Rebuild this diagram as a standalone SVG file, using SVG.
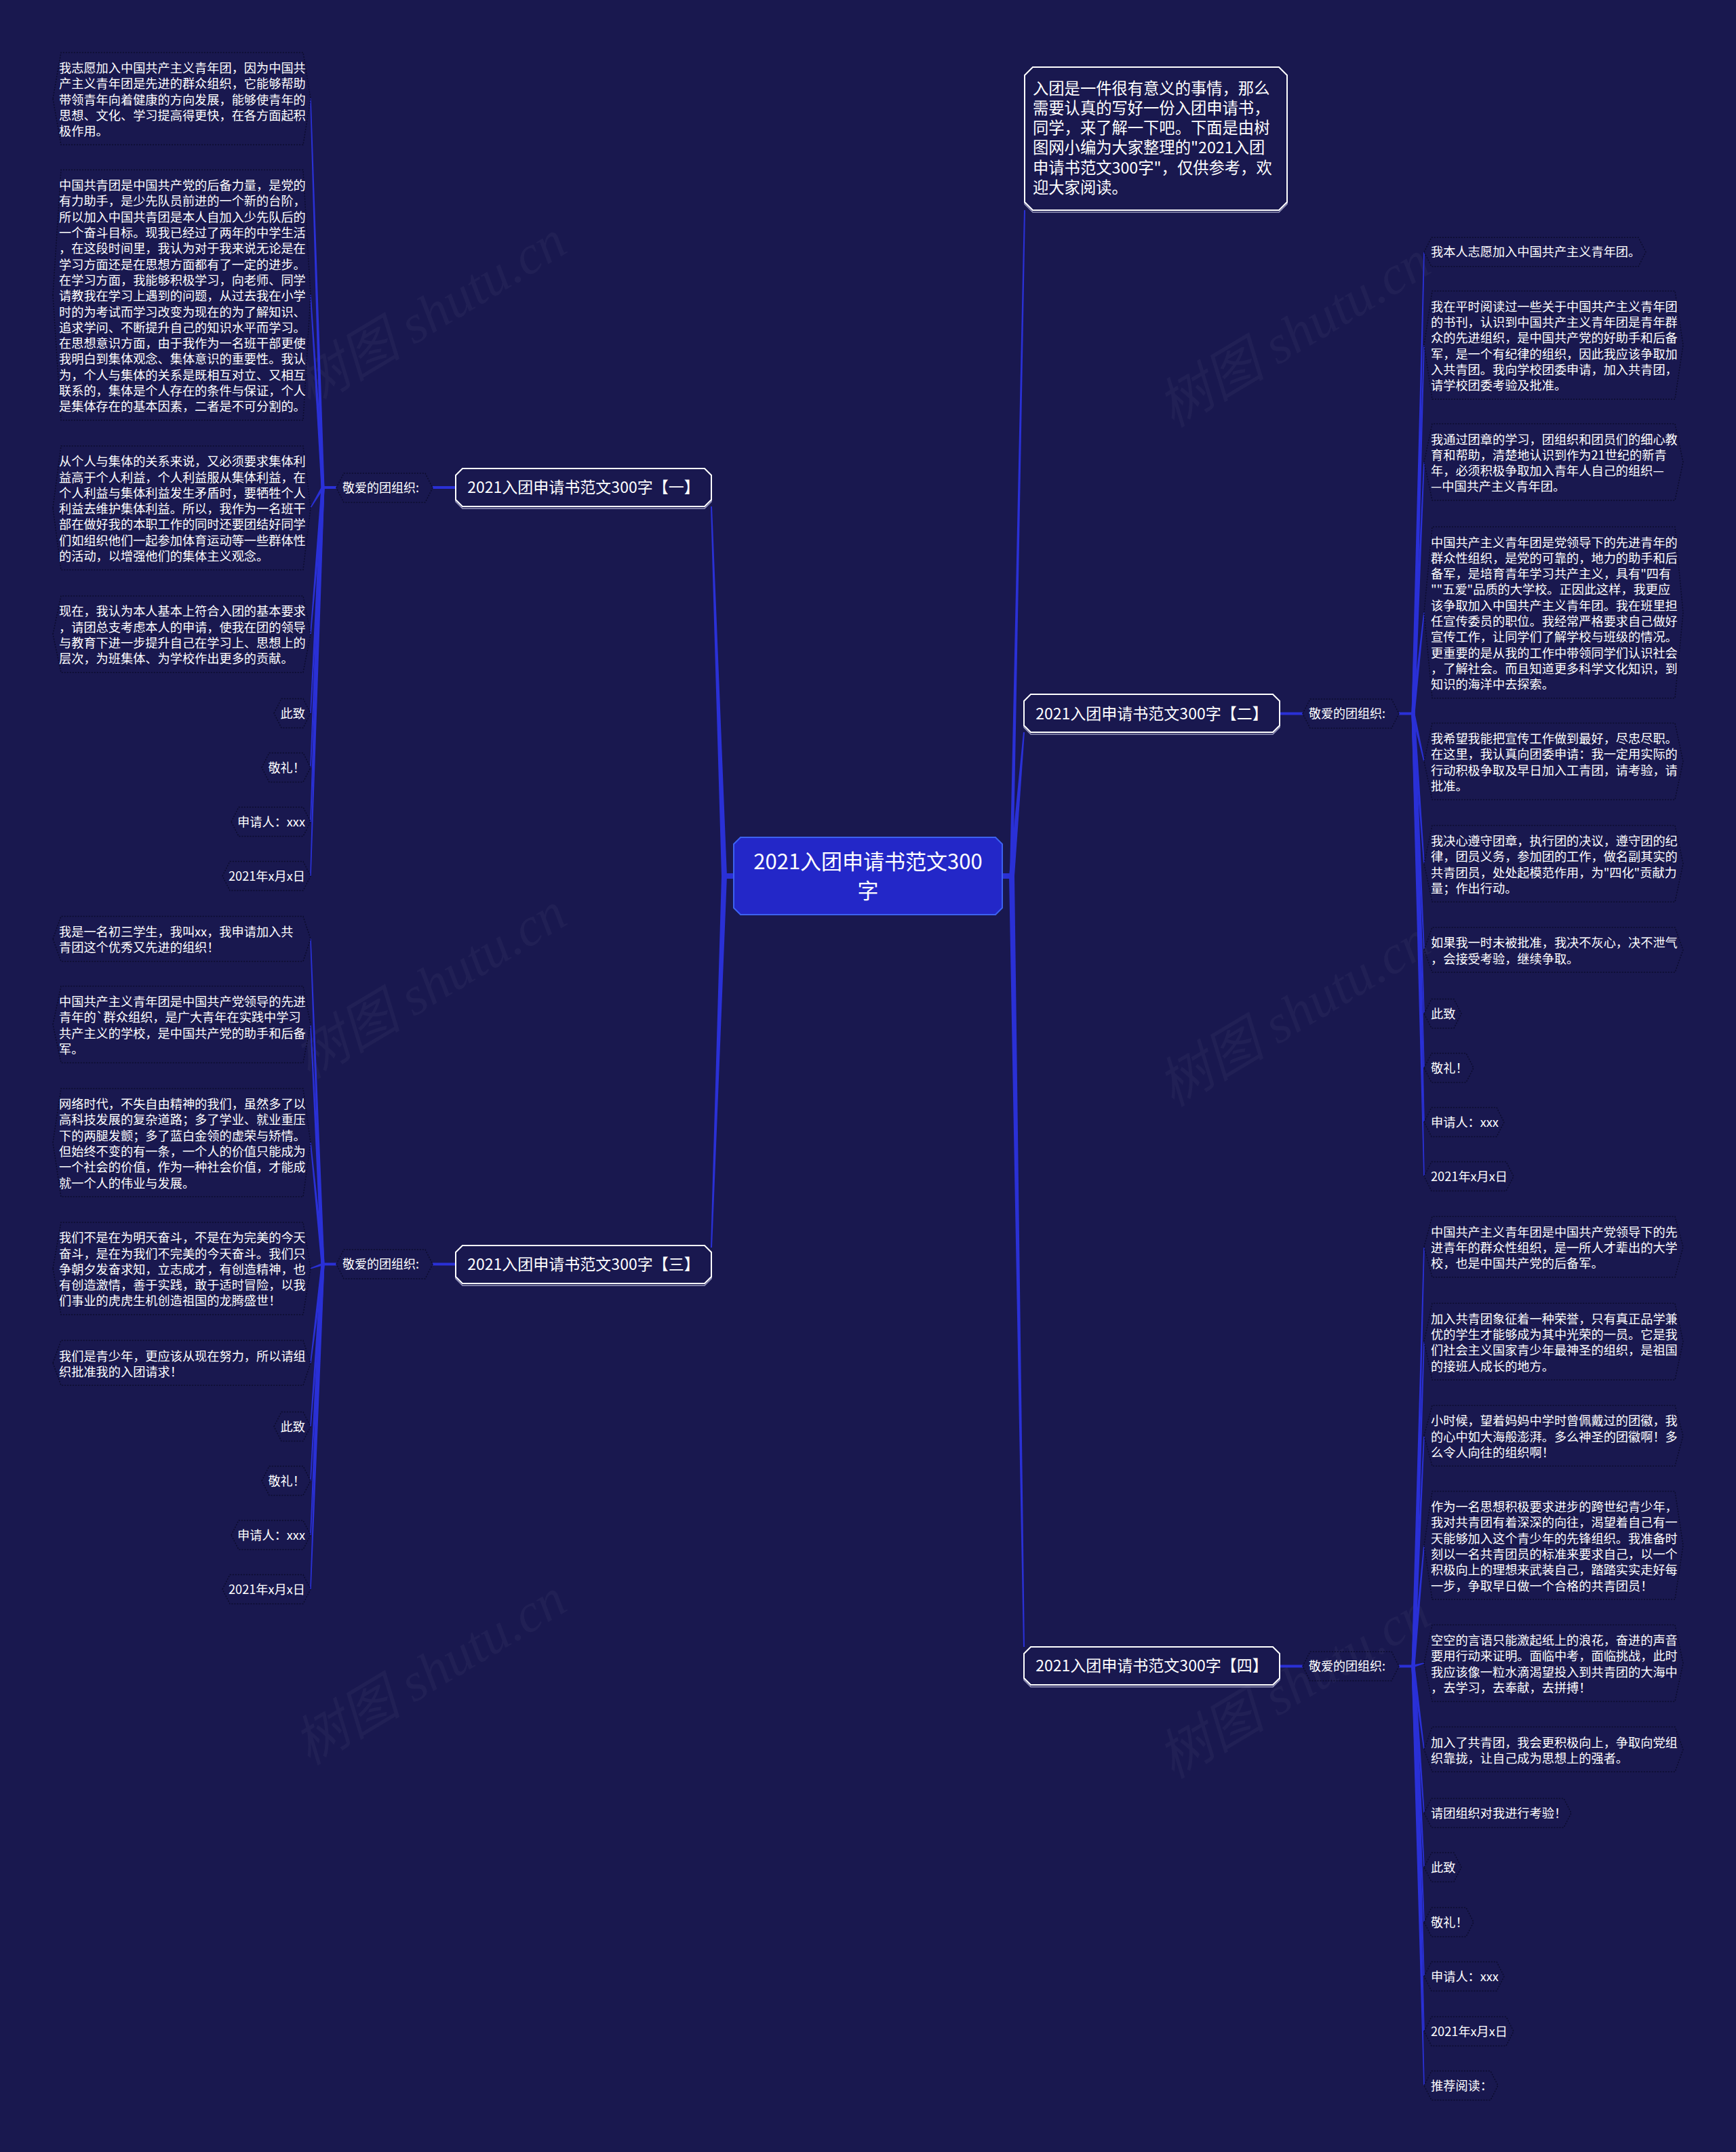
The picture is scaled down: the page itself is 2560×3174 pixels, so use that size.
<svg xmlns="http://www.w3.org/2000/svg" width="2560" height="3174" viewBox="0 0 2560 3174">
<style>
.t{font-family:"Noto Sans CJK SC","Noto Sans",sans-serif;font-size:18.2px;fill:#ffffff}
.te{text-anchor:end}
.bt{font-family:"Noto Sans CJK SC","Noto Sans",sans-serif;font-size:23px;fill:#ffffff;text-anchor:middle}
.ct{font-family:"Noto Sans CJK SC","Noto Sans",sans-serif;font-size:31px;fill:#ffffff;text-anchor:middle}
.it{font-family:"Noto Sans CJK SC","Noto Sans",sans-serif;font-size:23.3px;fill:#ffffff}
.lt{font-family:"Noto Sans CJK SC","Noto Sans",sans-serif;font-size:18px;fill:#ffffff}
.leaf{fill:none;stroke:#0c0c2e;stroke-width:1.5;stroke-dasharray:2 2}
.br{fill:#19184f;stroke:#ffffff;stroke-width:2}
.sh{fill:none;stroke:#9a9ac0;stroke-width:1.5}
.c{fill:#2a30d6}
.wm{font-family:"Liberation Serif","Noto Sans CJK SC",serif;font-style:italic;font-size:80px;fill:#ffffff;fill-opacity:0.035}
</style>
<rect x="0" y="0" width="2560" height="3174" fill="#19184f"/>
<g id="watermarks">
<text class="wm" text-anchor="middle" transform="translate(648,486) rotate(-31)">树图 shutu.cn</text>
<text class="wm" text-anchor="middle" transform="translate(648,1477) rotate(-31)">树图 shutu.cn</text>
<text class="wm" text-anchor="middle" transform="translate(648,2489) rotate(-31)">树图 shutu.cn</text>
<text class="wm" text-anchor="middle" transform="translate(1922,516) rotate(-31)">树图 shutu.cn</text>
<text class="wm" text-anchor="middle" transform="translate(1922,1518) rotate(-31)">树图 shutu.cn</text>
<text class="wm" text-anchor="middle" transform="translate(1922,2509) rotate(-31)">树图 shutu.cn</text>
</g>
<g id="connectors">
<rect class="c" x="1064" y="1288" width="18" height="8"/>
<polygon class="c" points="1064,1292 1072,1292 1050,747 1048,747"/>
<polygon class="c" points="1064,1292 1072,1292 1050,1840 1048,1840"/>
<rect class="c" x="1478" y="1288" width="18" height="8"/>
<polygon class="c" points="1488,1292 1496,1292 1511,1080 1509,1080"/>
<polygon class="c" points="1489,1292 1494,1292 1512,310 1510,310"/>
<polygon class="c" points="1488,1292 1496,1292 1511,2429 1509,2429"/>
<rect class="c" x="638" y="717" width="34" height="4"/>
<rect class="c" x="476" y="717" width="20" height="4"/>
<rect class="c" x="638" y="1862.5" width="34" height="4"/>
<rect class="c" x="476" y="1862.5" width="20" height="4"/>
<rect class="c" x="1887" y="1050.5" width="34" height="4"/>
<rect class="c" x="2063" y="1050.5" width="21" height="4"/>
<rect class="c" x="1887" y="2455.5" width="34" height="4"/>
<rect class="c" x="2063" y="2455.5" width="21" height="4"/>
<polygon class="c" points="473.5,719 478.5,719 458.8,145.5 457.2,145.5"/>
<polygon class="c" points="473.5,719 478.5,719 458.8,435.2 457.2,435.2"/>
<polygon class="c" points="473.5,719 478.5,719 458.8,749.1 457.2,749.1"/>
<polygon class="c" points="473.5,719 478.5,719 458.8,935.4 457.2,935.4"/>
<polygon class="c" points="473.5,719 478.5,719 458.8,1052 457.2,1052"/>
<polygon class="c" points="473.5,719 478.5,719 458.8,1132 457.2,1132"/>
<polygon class="c" points="473.5,719 478.5,719 458.8,1212 457.2,1212"/>
<polygon class="c" points="473.5,719 478.5,719 458.8,1292 457.2,1292"/>
<polygon class="c" points="473.5,1864.5 478.5,1864.5 458.8,1384.8 457.2,1384.8"/>
<polygon class="c" points="473.5,1864.5 478.5,1864.5 458.8,1511 457.2,1511"/>
<polygon class="c" points="473.5,1864.5 478.5,1864.5 458.8,1685.4 457.2,1685.4"/>
<polygon class="c" points="476,1862.5 476,1866.5 458,1871.6 458,1870"/>
<polygon class="c" points="473.5,1864.5 478.5,1864.5 458.8,2010.2 457.2,2010.2"/>
<polygon class="c" points="473.5,1864.5 478.5,1864.5 458.8,2104 457.2,2104"/>
<polygon class="c" points="473.5,1864.5 478.5,1864.5 458.8,2184 457.2,2184"/>
<polygon class="c" points="473.5,1864.5 478.5,1864.5 458.8,2264 457.2,2264"/>
<polygon class="c" points="473.5,1864.5 478.5,1864.5 458.8,2344 457.2,2344"/>
<polygon class="c" points="2081.5,1052.5 2086.5,1052.5 2100.8,371.7 2099.2,371.7"/>
<polygon class="c" points="2081.5,1052.5 2086.5,1052.5 2100.8,509 2099.2,509"/>
<polygon class="c" points="2081.5,1052.5 2086.5,1052.5 2100.8,681.5 2099.2,681.5"/>
<polygon class="c" points="2081.5,1052.5 2086.5,1052.5 2100.8,903.4 2099.2,903.4"/>
<polygon class="c" points="2081.5,1052.5 2086.5,1052.5 2100.8,1123 2099.2,1123"/>
<polygon class="c" points="2081.5,1052.5 2086.5,1052.5 2100.8,1273.9 2099.2,1273.9"/>
<polygon class="c" points="2081.5,1052.5 2086.5,1052.5 2100.8,1401 2099.2,1401"/>
<polygon class="c" points="2081.5,1052.5 2086.5,1052.5 2100.8,1495 2099.2,1495"/>
<polygon class="c" points="2081.5,1052.5 2086.5,1052.5 2100.8,1575 2099.2,1575"/>
<polygon class="c" points="2081.5,1052.5 2086.5,1052.5 2100.8,1655 2099.2,1655"/>
<polygon class="c" points="2081.5,1052.5 2086.5,1052.5 2100.8,1735 2099.2,1735"/>
<polygon class="c" points="2081.5,2457.5 2086.5,2457.5 2100.8,1839 2099.2,1839"/>
<polygon class="c" points="2081.5,2457.5 2086.5,2457.5 2100.8,1978.8 2099.2,1978.8"/>
<polygon class="c" points="2081.5,2457.5 2086.5,2457.5 2100.8,2117.5 2099.2,2117.5"/>
<polygon class="c" points="2081.5,2457.5 2086.5,2457.5 2100.8,2279.3 2099.2,2279.3"/>
<polygon class="c" points="2084,2455.5 2084,2459.5 2100,2453.8 2100,2452.2"/>
<polygon class="c" points="2081.5,2457.5 2086.5,2457.5 2100.8,2580.2 2099.2,2580.2"/>
<polygon class="c" points="2081.5,2457.5 2086.5,2457.5 2100.8,2674 2099.2,2674"/>
<polygon class="c" points="2081.5,2457.5 2086.5,2457.5 2100.8,2754 2099.2,2754"/>
<polygon class="c" points="2081.5,2457.5 2086.5,2457.5 2100.8,2835 2099.2,2835"/>
<polygon class="c" points="2081.5,2457.5 2086.5,2457.5 2100.8,2915 2099.2,2915"/>
<polygon class="c" points="2081.5,2457.5 2086.5,2457.5 2100.8,2996 2099.2,2996"/>
<polygon class="c" points="2081.5,2457.5 2086.5,2457.5 2100.8,3076 2099.2,3076"/>
</g>
<g id="center">
<path d="M1092,1235 H1468 L1478,1245 V1339 L1468,1349 H1092 L1082,1339 V1245 Z" fill="#2327c8" stroke="#3d62f0" stroke-width="2"/>
<text class="ct" x="1280" y="1282">2021入团申请书范文300</text>
<text class="ct" x="1280" y="1325">字</text>
</g>
<g id="intro">
<path d="M1523,102 H1886 L1898,114 V301 L1886,313 H1523 L1511,301 V114 Z" class="sh"/>
<path d="M1523,99 H1886 L1898,111 V298 L1886,310 H1523 L1511,298 V111 Z" class="br"/>
<text class="it"><tspan x="1523" y="138.8">入团是一件很有意义的事情，那么</tspan><tspan x="1523" y="168">需要认真的写好一份入团申请书，</tspan><tspan x="1523" y="197.2">同学，来了解一下吧。下面是由树</tspan><tspan x="1523" y="226.4">图网小编为大家整理的"2021入团</tspan><tspan x="1523" y="255.6">申请书范文300字"，仅供参考，欢</tspan><tspan x="1523" y="284.8">迎大家阅读。</tspan></text>
</g>
<g id="branch1">
<path d="M682,694 H1039 L1049,704 V740 L1039,750 H682 L672,740 V704 Z" class="sh"/>
<path d="M682,691 H1039 L1049,701 V737 L1039,747 H682 L672,737 V701 Z" class="br"/>
<text class="bt" x="860.5" y="727">2021入团申请书范文300字【一】</text>
</g>
<g id="branch2">
<path d="M1520,1027 H1877 L1887,1037 V1073 L1877,1083 H1520 L1510,1073 V1037 Z" class="sh"/>
<path d="M1520,1024 H1877 L1887,1034 V1070 L1877,1080 H1520 L1510,1070 V1034 Z" class="br"/>
<text class="bt" x="1698.5" y="1060.5">2021入团申请书范文300字【二】</text>
</g>
<g id="branch3">
<path d="M682,1840 H1039 L1049,1850 V1886 L1039,1896 H682 L672,1886 V1850 Z" class="sh"/>
<path d="M682,1837 H1039 L1049,1847 V1883 L1039,1893 H682 L672,1883 V1847 Z" class="br"/>
<text class="bt" x="860.5" y="1873">2021入团申请书范文300字【三】</text>
</g>
<g id="branch4">
<path d="M1520,2432 H1877 L1887,2442 V2478 L1877,2488 H1520 L1510,2478 V2442 Z" class="sh"/>
<path d="M1520,2429 H1877 L1887,2439 V2475 L1877,2485 H1520 L1510,2475 V2439 Z" class="br"/>
<text class="bt" x="1698.5" y="2465">2021入团申请书范文300字【四】</text>
</g>
<g id="label1">
<polygon class="leaf" points="496,719.5 507,698 627,698 638,719.5 627,741 507,741"/>
<text class="lt" x="505" y="726">敬爱的团组织:</text>
</g>
<g id="label2">
<polygon class="leaf" points="1921,1052.5 1932,1031 2052,1031 2063,1052.5 2052,1074 1932,1074"/>
<text class="lt" x="1930" y="1059">敬爱的团组织:</text>
</g>
<g id="label3">
<polygon class="leaf" points="496,1864.5 507,1843 627,1843 638,1864.5 627,1886 507,1886"/>
<text class="lt" x="505" y="1871">敬爱的团组织:</text>
</g>
<g id="label4">
<polygon class="leaf" points="1921,2457.5 1932,2436 2052,2436 2063,2457.5 2052,2479 1932,2479"/>
<text class="lt" x="1930" y="2464">敬爱的团组织:</text>
</g>
<g id="l1-1">
<polygon class="leaf" points="78,145.5 90,77.4 447,77.4 458,145.5 447,213.6 90,213.6"/>
<text class="t"><tspan x="87" y="106.9">我志愿加入中国共产主义青年团，因为中国共</tspan><tspan x="87" dy="23.3">产主义青年团是先进的群众组织，它能够帮助</tspan><tspan x="87" dy="23.3">带领青年向着健康的方向发展，能够使青年的</tspan><tspan x="87" dy="23.3">思想、文化、学习提高得更快，在各方面起积</tspan><tspan x="87" dy="23.3">极作用。</tspan></text>
</g>
<g id="l1-2">
<polygon class="leaf" points="78,435.2 90,250.6 447,250.6 458,435.2 447,619.8 90,619.8"/>
<text class="t"><tspan x="87" y="280.1">中国共青团是中国共产党的后备力量，是党的</tspan><tspan x="87" dy="23.3">有力助手，是少先队员前进的一个新的台阶，</tspan><tspan x="87" dy="23.3">所以加入中国共青团是本人自加入少先队后的</tspan><tspan x="87" dy="23.3">一个奋斗目标。现我已经过了两年的中学生活</tspan><tspan x="87" dy="23.3">，在这段时间里，我认为对于我来说无论是在</tspan><tspan x="87" dy="23.3">学习方面还是在思想方面都有了一定的进步。</tspan><tspan x="87" dy="23.3">在学习方面，我能够积极学习，向老师、同学</tspan><tspan x="87" dy="23.3">请教我在学习上遇到的问题，从过去我在小学</tspan><tspan x="87" dy="23.3">时的为考试而学习改变为现在的为了解知识、</tspan><tspan x="87" dy="23.3">追求学问、不断提升自己的知识水平而学习。</tspan><tspan x="87" dy="23.3">在思想意识方面，由于我作为一名班干部更使</tspan><tspan x="87" dy="23.3">我明白到集体观念、集体意识的重要性。我认</tspan><tspan x="87" dy="23.3">为，个人与集体的关系是既相互对立、又相互</tspan><tspan x="87" dy="23.3">联系的，集体是个人存在的条件与保证，个人</tspan><tspan x="87" dy="23.3">是集体存在的基本因素，二者是不可分割的。</tspan></text>
</g>
<g id="l1-3">
<polygon class="leaf" points="78,749.1 90,657.7 447,657.7 458,749.1 447,840.5 90,840.5"/>
<text class="t"><tspan x="87" y="687.2">从个人与集体的关系来说，又必须要求集体利</tspan><tspan x="87" dy="23.3">益高于个人利益，个人利益服从集体利益，在</tspan><tspan x="87" dy="23.3">个人利益与集体利益发生矛盾时，要牺牲个人</tspan><tspan x="87" dy="23.3">利益去维护集体利益。所以，我作为一名班干</tspan><tspan x="87" dy="23.3">部在做好我的本职工作的同时还要团结好同学</tspan><tspan x="87" dy="23.3">们如组织他们一起参加体育运动等一些群体性</tspan><tspan x="87" dy="23.3">的活动，以增强他们的集体主义观念。</tspan></text>
</g>
<g id="l1-4">
<polygon class="leaf" points="78,935.4 90,878.9 447,878.9 458,935.4 447,991.8 90,991.8"/>
<text class="t"><tspan x="87" y="908.4">现在，我认为本人基本上符合入团的基本要求</tspan><tspan x="87" dy="23.3">，请团总支考虑本人的申请，使我在团的领导</tspan><tspan x="87" dy="23.3">与教育下进一步提升自己在学习上、思想上的</tspan><tspan x="87" dy="23.3">层次，为班集体、为学校作出更多的贡献。</tspan></text>
</g>
<g id="l1-5">
<polygon class="leaf" points="404,1052 415,1030.5 447,1030.5 458,1052 447,1073.5 415,1073.5"/>
<text class="t te" x="450" y="1058.5">此致</text>
</g>
<g id="l1-6">
<polygon class="leaf" points="386,1132 397,1110.5 447,1110.5 458,1132 447,1153.5 397,1153.5"/>
<text class="t te" x="450" y="1138.5">敬礼！</text>
</g>
<g id="l1-7">
<polygon class="leaf" points="341,1212 352,1190.5 447,1190.5 458,1212 447,1233.5 352,1233.5"/>
<text class="t te" x="450" y="1218.5">申请人：xxx</text>
</g>
<g id="l1-8">
<polygon class="leaf" points="328,1292 339,1270.5 447,1270.5 458,1292 447,1313.5 339,1313.5"/>
<text class="t te" x="450" y="1298.5">2021年x月x日</text>
</g>
<g id="l3-1">
<polygon class="leaf" points="78,1384.8 90,1351.6 447,1351.6 458,1384.8 447,1417.9 90,1417.9"/>
<text class="t"><tspan x="87" y="1381.1">我是一名初三学生，我叫xx，我申请加入共</tspan><tspan x="87" dy="23.3">青团这个优秀又先进的组织！</tspan></text>
</g>
<g id="l3-2">
<polygon class="leaf" points="78,1511 90,1454.5 447,1454.5 458,1511 447,1567.4 90,1567.4"/>
<text class="t"><tspan x="87" y="1484">中国共产主义青年团是中国共产党领导的先进</tspan><tspan x="87" dy="23.3">青年的`群众组织，是广大青年在实践中学习</tspan><tspan x="87" dy="23.3">共产主义的学校，是中国共产党的助手和后备</tspan><tspan x="87" dy="23.3">军。</tspan></text>
</g>
<g id="l3-3">
<polygon class="leaf" points="78,1685.4 90,1605.6 447,1605.6 458,1685.4 447,1765.1 90,1765.1"/>
<text class="t"><tspan x="87" y="1635.1">网络时代，不失自由精神的我们，虽然多了以</tspan><tspan x="87" dy="23.3">高科技发展的复杂道路；多了学业、就业重压</tspan><tspan x="87" dy="23.3">下的两腿发颤；多了蓝白金领的虚荣与矫情。</tspan><tspan x="87" dy="23.3">但始终不变的有一条，一个人的价值只能成为</tspan><tspan x="87" dy="23.3">一个社会的价值，作为一种社会价值，才能成</tspan><tspan x="87" dy="23.3">就一个人的伟业与发展。</tspan></text>
</g>
<g id="l3-4">
<polygon class="leaf" points="78,1870.8 90,1802.7 447,1802.7 458,1870.8 447,1938.9 90,1938.9"/>
<text class="t"><tspan x="87" y="1832.2">我们不是在为明天奋斗，不是在为完美的今天</tspan><tspan x="87" dy="23.3">奋斗，是在为我们不完美的今天奋斗。我们只</tspan><tspan x="87" dy="23.3">争朝夕发奋求知，立志成才，有创造精神，也</tspan><tspan x="87" dy="23.3">有创造激情，善于实践，敢于适时冒险，以我</tspan><tspan x="87" dy="23.3">们事业的虎虎生机创造祖国的龙腾盛世！</tspan></text>
</g>
<g id="l3-5">
<polygon class="leaf" points="78,2010.2 90,1977 447,1977 458,2010.2 447,2043.3 90,2043.3"/>
<text class="t"><tspan x="87" y="2006.5">我们是青少年，更应该从现在努力，所以请组</tspan><tspan x="87" dy="23.3">织批准我的入团请求！</tspan></text>
</g>
<g id="l3-6">
<polygon class="leaf" points="404,2104 415,2082.5 447,2082.5 458,2104 447,2125.5 415,2125.5"/>
<text class="t te" x="450" y="2110.5">此致</text>
</g>
<g id="l3-7">
<polygon class="leaf" points="386,2184 397,2162.5 447,2162.5 458,2184 447,2205.5 397,2205.5"/>
<text class="t te" x="450" y="2190.5">敬礼！</text>
</g>
<g id="l3-8">
<polygon class="leaf" points="341,2264 352,2242.5 447,2242.5 458,2264 447,2285.5 352,2285.5"/>
<text class="t te" x="450" y="2270.5">申请人：xxx</text>
</g>
<g id="l3-9">
<polygon class="leaf" points="328,2344 339,2322.5 447,2322.5 458,2344 447,2365.5 339,2365.5"/>
<text class="t te" x="450" y="2350.5">2021年x月x日</text>
</g>
<g id="r2-1">
<polygon class="leaf" points="2100,371.7 2111,350.2 2416,350.2 2427,371.7 2416,393.2 2111,393.2"/>
<text class="t" x="2110" y="378.2">我本人志愿加入中国共产主义青年团。</text>
</g>
<g id="r2-2">
<polygon class="leaf" points="2100,509 2112,429.2 2470,429.2 2482,509 2470,588.7 2112,588.7"/>
<text class="t"><tspan x="2110" y="458.7">我在平时阅读过一些关于中国共产主义青年团</tspan><tspan x="2110" dy="23.3">的书刊，认识到中国共产主义青年团是青年群</tspan><tspan x="2110" dy="23.3">众的先进组织，是中国共产党的好助手和后备</tspan><tspan x="2110" dy="23.3">军，是一个有纪律的组织，因此我应该争取加</tspan><tspan x="2110" dy="23.3">入共青团。我向学校团委申请，加入共青团，</tspan><tspan x="2110" dy="23.3">请学校团委考验及批准。</tspan></text>
</g>
<g id="r2-3">
<polygon class="leaf" points="2100,681.5 2112,625 2470,625 2482,681.5 2470,737.9 2112,737.9"/>
<text class="t"><tspan x="2110" y="654.5">我通过团章的学习，团组织和团员们的细心教</tspan><tspan x="2110" dy="23.3">育和帮助，清楚地认识到作为21世纪的新青</tspan><tspan x="2110" dy="23.3">年，必须积极争取加入青年人自己的组织—</tspan><tspan x="2110" dy="23.3">—中国共产主义青年团。</tspan></text>
</g>
<g id="r2-4">
<polygon class="leaf" points="2100,903.4 2112,777 2470,777 2482,903.4 2470,1029.7 2112,1029.7"/>
<text class="t"><tspan x="2110" y="806.5">中国共产主义青年团是党领导下的先进青年的</tspan><tspan x="2110" dy="23.3">群众性组织，是党的可靠的，地力的助手和后</tspan><tspan x="2110" dy="23.3">备军，是培育青年学习共产主义，具有"四有</tspan><tspan x="2110" dy="23.3">""五爱"品质的大学校。正因此这样，我更应</tspan><tspan x="2110" dy="23.3">该争取加入中国共产主义青年团。我在班里担</tspan><tspan x="2110" dy="23.3">任宣传委员的职位。我经常严格要求自己做好</tspan><tspan x="2110" dy="23.3">宣传工作，让同学们了解学校与班级的情况。</tspan><tspan x="2110" dy="23.3">更重要的是从我的工作中带领同学们认识社会</tspan><tspan x="2110" dy="23.3">，了解社会。而且知道更多科学文化知识，到</tspan><tspan x="2110" dy="23.3">知识的海洋中去探索。</tspan></text>
</g>
<g id="r2-5">
<polygon class="leaf" points="2100,1123 2112,1066.6 2470,1066.6 2482,1123 2470,1179.5 2112,1179.5"/>
<text class="t"><tspan x="2110" y="1096.1">我希望我能把宣传工作做到最好，尽忠尽职。</tspan><tspan x="2110" dy="23.3">在这里，我认真向团委申请：我一定用实际的</tspan><tspan x="2110" dy="23.3">行动积极争取及早日加入工青团，请考验，请</tspan><tspan x="2110" dy="23.3">批准。</tspan></text>
</g>
<g id="r2-6">
<polygon class="leaf" points="2100,1273.9 2112,1217.4 2470,1217.4 2482,1273.9 2470,1330.3 2112,1330.3"/>
<text class="t"><tspan x="2110" y="1246.9">我决心遵守团章，执行团的决议，遵守团的纪</tspan><tspan x="2110" dy="23.3">律，团员义务，参加团的工作，做名副其实的</tspan><tspan x="2110" dy="23.3">共青团员，处处起模范作用，为"四化"贡献力</tspan><tspan x="2110" dy="23.3">量；作出行动。</tspan></text>
</g>
<g id="r2-7">
<polygon class="leaf" points="2100,1401 2112,1367.8 2470,1367.8 2482,1401 2470,1434.1 2112,1434.1"/>
<text class="t"><tspan x="2110" y="1397.3">如果我一时未被批准，我决不灰心，决不泄气</tspan><tspan x="2110" dy="23.3">，会接受考验，继续争取。</tspan></text>
</g>
<g id="r2-8">
<polygon class="leaf" points="2100,1495 2111,1473.5 2144,1473.5 2155,1495 2144,1516.5 2111,1516.5"/>
<text class="t" x="2110" y="1501.5">此致</text>
</g>
<g id="r2-9">
<polygon class="leaf" points="2100,1575 2111,1553.5 2162,1553.5 2173,1575 2162,1596.5 2111,1596.5"/>
<text class="t" x="2110" y="1581.5">敬礼！</text>
</g>
<g id="r2-10">
<polygon class="leaf" points="2100,1655 2111,1633.5 2207,1633.5 2218,1655 2207,1676.5 2111,1676.5"/>
<text class="t" x="2110" y="1661.5">申请人：xxx</text>
</g>
<g id="r2-11">
<polygon class="leaf" points="2100,1735 2111,1713.5 2221,1713.5 2232,1735 2221,1756.5 2111,1756.5"/>
<text class="t" x="2110" y="1741.5">2021年x月x日</text>
</g>
<g id="r4-1">
<polygon class="leaf" points="2100,1839 2112,1794.2 2470,1794.2 2482,1839 2470,1883.8 2112,1883.8"/>
<text class="t"><tspan x="2110" y="1823.7">中国共产主义青年团是中国共产党领导下的先</tspan><tspan x="2110" dy="23.3">进青年的群众性组织，是一所人才辈出的大学</tspan><tspan x="2110" dy="23.3">校，也是中国共产党的后备军。</tspan></text>
</g>
<g id="r4-2">
<polygon class="leaf" points="2100,1978.8 2112,1922.3 2470,1922.3 2482,1978.8 2470,2035.2 2112,2035.2"/>
<text class="t"><tspan x="2110" y="1951.8">加入共青团象征着一种荣誉，只有真正品学兼</tspan><tspan x="2110" dy="23.3">优的学生才能够成为其中光荣的一员。它是我</tspan><tspan x="2110" dy="23.3">们社会主义国家青少年最神圣的组织，是祖国</tspan><tspan x="2110" dy="23.3">的接班人成长的地方。</tspan></text>
</g>
<g id="r4-3">
<polygon class="leaf" points="2100,2117.5 2112,2072.7 2470,2072.7 2482,2117.5 2470,2162.3 2112,2162.3"/>
<text class="t"><tspan x="2110" y="2102.2">小时候，望着妈妈中学时曾佩戴过的团徽，我</tspan><tspan x="2110" dy="23.3">的心中如大海般澎湃。多么神圣的团徽啊！多</tspan><tspan x="2110" dy="23.3">么令人向往的组织啊！</tspan></text>
</g>
<g id="r4-4">
<polygon class="leaf" points="2100,2279.3 2112,2199.5 2470,2199.5 2482,2279.3 2470,2359 2112,2359"/>
<text class="t"><tspan x="2110" y="2229">作为一名思想积极要求进步的跨世纪青少年，</tspan><tspan x="2110" dy="23.3">我对共青团有着深深的向往，渴望着自己有一</tspan><tspan x="2110" dy="23.3">天能够加入这个青少年的先锋组织。我准备时</tspan><tspan x="2110" dy="23.3">刻以一名共青团员的标准来要求自己，以一个</tspan><tspan x="2110" dy="23.3">积极向上的理想来武装自己，踏踏实实走好每</tspan><tspan x="2110" dy="23.3">一步，争取早日做一个合格的共青团员！</tspan></text>
</g>
<g id="r4-5">
<polygon class="leaf" points="2100,2453 2112,2396.5 2470,2396.5 2482,2453 2470,2509.4 2112,2509.4"/>
<text class="t"><tspan x="2110" y="2426">空空的言语只能激起纸上的浪花，奋进的声音</tspan><tspan x="2110" dy="23.3">要用行动来证明。面临中考，面临挑战，此时</tspan><tspan x="2110" dy="23.3">我应该像一粒水滴渴望投入到共青团的大海中</tspan><tspan x="2110" dy="23.3">，去学习，去奉献，去拼搏！</tspan></text>
</g>
<g id="r4-6">
<polygon class="leaf" points="2100,2580.2 2112,2547 2470,2547 2482,2580.2 2470,2613.3 2112,2613.3"/>
<text class="t"><tspan x="2110" y="2576.5">加入了共青团，我会更积极向上，争取向党组</tspan><tspan x="2110" dy="23.3">织靠拢，让自己成为思想上的强者。</tspan></text>
</g>
<g id="r4-7">
<polygon class="leaf" points="2100,2674 2111,2652.5 2306,2652.5 2317,2674 2306,2695.5 2111,2695.5"/>
<text class="t" x="2110" y="2680.5">请团组织对我进行考验！</text>
</g>
<g id="r4-8">
<polygon class="leaf" points="2100,2754 2111,2732.5 2144,2732.5 2155,2754 2144,2775.5 2111,2775.5"/>
<text class="t" x="2110" y="2760.5">此致</text>
</g>
<g id="r4-9">
<polygon class="leaf" points="2100,2835 2111,2813.5 2162,2813.5 2173,2835 2162,2856.5 2111,2856.5"/>
<text class="t" x="2110" y="2841.5">敬礼！</text>
</g>
<g id="r4-10">
<polygon class="leaf" points="2100,2915 2111,2893.5 2207,2893.5 2218,2915 2207,2936.5 2111,2936.5"/>
<text class="t" x="2110" y="2921.5">申请人：xxx</text>
</g>
<g id="r4-11">
<polygon class="leaf" points="2100,2996 2111,2974.5 2221,2974.5 2232,2996 2221,3017.5 2111,3017.5"/>
<text class="t" x="2110" y="3002.5">2021年x月x日</text>
</g>
<g id="r4-12">
<polygon class="leaf" points="2100,3076 2111,3054.5 2198,3054.5 2209,3076 2198,3097.5 2111,3097.5"/>
<text class="t" x="2110" y="3082.5">推荐阅读：</text>
</g>
</svg>
